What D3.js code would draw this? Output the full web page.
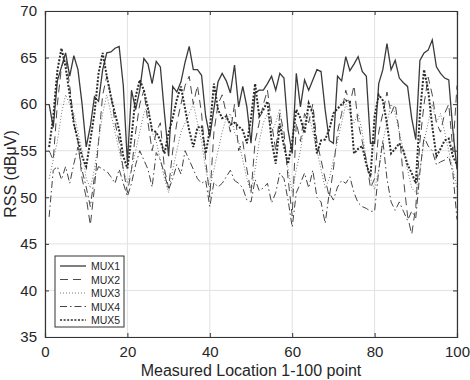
<!DOCTYPE html>
<html>
<head>
<meta charset="utf-8">
<script src="https://cdn.jsdelivr.net/npm/d3@7"></script>
<style>
  body { margin: 0; background: #fff; }
  svg { display: block; font-family: "Liberation Sans", Arial, sans-serif; }
</style>
</head>
<body>
<div id="chart"></div>
<script>
// values, points 1..100
const mux1 = [60, 57.5, 62.5, 64, 65.5, 63, 65.2, 63.7, 60, 55.4,
  57.6, 60.8, 60.3, 63.7, 65.5, 65.6, 66, 66.2, 62, 53.7,
  61.5, 59.4, 61.5, 64.9, 64.3, 62.2, 64.6, 64, 59, 54.4,
  61.9, 61.3, 62.4, 64.5, 66.2, 63.7, 63.7, 63.1, 58.7, 56.5,
  59.5, 62.4, 63.3, 62.5, 61.2, 64.2, 59.7, 61.9, 59.7, 55.8,
  61.2, 61.5, 61.5, 62.2, 63, 61.5, 63.3, 62.8, 57.2, 54.7,
  63.3, 59.7, 62.6, 61.5, 62.6, 63.7, 63.5, 59.4, 56.1, 55.8,
  63, 62.5, 65.1, 63.6, 64.3, 65.1, 63.5, 63, 55.8, 55.8,
  62.2, 63.7, 66.5, 63.7, 64.7, 62.8, 62.3, 61.9, 58.5, 56.2,
  64.7, 65.5, 65.8, 66.9, 64, 63.3, 62.8, 62.6, 57.2, 53];
const mux2 = [55, 54, 60, 64, 65, 62, 58, 56, 52, 50,
  47, 51, 56, 61, 63, 61, 58, 56, 53, 50.5,
  53, 57, 60, 61.5, 58, 55, 57, 58, 53, 51,
  55, 58, 60, 62, 63, 60, 62, 59, 54, 50,
  57, 60, 61, 59, 57, 60, 55, 56, 53, 50.5,
  56, 58, 60, 61.5, 58, 55, 59, 57, 52, 48,
  58, 56, 59, 58, 60, 56, 54, 52, 50, 53,
  57, 59, 61.5, 60, 62, 58, 56, 54, 51, 52,
  57, 59, 61.3, 59, 60, 57, 52, 48, 46, 49,
  56, 60, 62.9, 61, 58, 57, 59, 60, 55, 62];
const mux3 = [52, 54, 56, 59, 61, 60, 59, 57, 55, 52,
  51, 53, 56, 59, 61, 59, 57, 55, 53, 51.5,
  53, 55, 57, 59, 60, 57, 56, 54, 52, 50.5,
  53, 55, 57, 58, 59, 60, 58, 56, 53, 51,
  53, 55, 57, 58.5, 59, 57, 56, 54, 52, 50.5,
  53, 56, 58, 59, 57, 58, 59.5, 56, 53, 50.5,
  53, 55, 58, 59, 57, 55, 53, 51, 52, 54,
  56, 58, 60, 59, 58, 59, 57, 54, 52, 50.8,
  53, 56, 58, 60, 59, 57, 55, 53, 51, 50.5,
  53, 56, 58, 60, 58, 59, 57, 55, 53, 51];
const mux4 = [47.9, 52.9, 53.3, 51.9, 53.3, 51.5, 53.6, 55.4, 52.9, 51.1,
  49, 52.2, 53.3, 53, 52.8, 52.2, 51.5, 53, 51.5, 50.1,
  51.5, 53.5, 55, 54, 53, 51.1, 54.8, 54, 52.5, 50.8,
  52, 53.5, 52.5, 55, 54, 53, 52, 51.5, 51.8, 49,
  51.6, 51.1, 51.5, 52.2, 52.9, 51.8, 51.5, 51, 49.7, 49.5,
  51.9, 50.7, 51, 51.5, 49.4, 50.5, 52.6, 52, 49.7, 46.8,
  50.5, 51.5, 52.6, 51, 52.9, 50, 49.5, 47.2, 50.5, 49.7,
  51.1, 51.8, 51.5, 52.2, 50.5, 49.4, 49, 48.8, 48.5, 48.5,
  52.9, 56.1, 52, 49.5, 48.6, 49.5, 48.5, 47.5, 48.5, 47.8,
  52.7, 56.5, 55.5, 55, 53.5, 53.8, 54, 54.4, 52.6, 47.6];
const mux5 = [55.4, 58.6, 63.6, 66, 64, 61, 57.9, 56.1, 54.4, 53.3,
  56.1, 59, 63.3, 65.5, 63, 60.8, 59, 57.2, 54.4, 53.1,
  56.5, 60.8, 62.6, 61.5, 59.5, 57.2, 57, 56.1, 54.7, 56.9,
  58.5, 60.5, 61.9, 59.5, 57.2, 55.4, 57.5, 57.6, 54.7, 57.2,
  62.2, 59.4, 58.5, 58.7, 57.8, 58, 57.6, 57.2, 55.8, 58.5,
  62.2, 58.7, 59.4, 60.3, 56.1, 53.6, 57.9, 55.5, 53.6, 56,
  59.4, 58.5, 56.9, 60.1, 59, 54.7, 56.1, 56.2, 57.3, 59,
  59.5, 60, 60.4, 60.2, 54.7, 55.2, 55.5, 53.5, 52.2, 58.7,
  61, 60.4, 57.9, 54.7, 55.2, 55.8, 55, 53.5, 52.6, 51.5,
  59, 63.7, 61.5, 57.6, 54.4, 55.2, 56.1, 56.3, 54.4, 53.5];

const seriesNames = ['MUX1', 'MUX2', 'MUX3', 'MUX4', 'MUX5'];
const xTicks = [0, 20, 40, 60, 80, 100];
const yTicks = [35, 40, 45, 50, 55, 60, 65, 70];

const series = [
  { name: seriesNames[0], values: mux1, dash: null, width: 1.3, color: '#3a3a3a' },
  { name: seriesNames[1], values: mux2, dash: '8,5', width: 1, color: '#4a4a4a' },
  { name: seriesNames[2], values: mux3, dash: '1,2', width: 0.9, color: '#666' },
  { name: seriesNames[3], values: mux4, dash: '7,3,1.5,3', width: 1, color: '#444' },
  { name: seriesNames[4], values: mux5, dash: '2,1.6', width: 2, color: '#2a2a2a' }
];

const W = 470, H = 380;
const margin = { top: 11, right: 13, bottom: 43, left: 45 };
const width = W - margin.left - margin.right;
const height = H - margin.top - margin.bottom;

const svg = d3.select('#chart').append('svg')
  .attr('width', W)
  .attr('height', H);

const chart = svg.append('g')
  .attr('transform', `translate(${margin.left}, ${margin.top})`);

const x = d3.scaleLinear().domain([0, 100]).range([0, width]);
const y = d3.scaleLinear().domain([35, 70]).range([height, 0]);

// grid
chart.append('g')
  .selectAll('line.gx')
  .data(xTicks)
  .enter().append('line')
  .attr('x1', d => x(d)).attr('x2', d => x(d))
  .attr('y1', 0).attr('y2', height)
  .attr('stroke', '#e2e2e2').attr('stroke-width', 1);
chart.append('g')
  .selectAll('line.gy')
  .data(yTicks)
  .enter().append('line')
  .attr('x1', 0).attr('x2', width)
  .attr('y1', d => y(d)).attr('y2', d => y(d))
  .attr('stroke', '#e2e2e2').attr('stroke-width', 1);

// lines
const line = d3.line()
  .x((d, i) => x(i + 1))
  .y(d => y(d));

chart.selectAll('.series')
  .data(series)
  .enter()
  .append('path')
  .attr('class', 'series')
  .attr('d', d => line(d.values))
  .attr('fill', 'none')
  .attr('stroke', d => d.color)
  .attr('stroke-width', d => d.width)
  .attr('stroke-dasharray', d => d.dash);

// axes, ticks pointing inward like MATLAB
const xAxis = d3.axisBottom(x).tickValues(xTicks).tickSize(-4).tickPadding(9);
const yAxis = d3.axisLeft(y).tickValues(yTicks).tickSize(-4).tickPadding(8);

chart.append('g')
  .attr('transform', `translate(0, ${height})`)
  .call(xAxis);
chart.append('g').call(yAxis);

chart.append('g')
  .call(d3.axisTop(x).tickValues(xTicks).tickSize(-4).tickFormat(''));
chart.append('g')
  .attr('transform', `translate(${width}, 0)`)
  .call(d3.axisRight(y).tickValues(yTicks).tickSize(-4).tickFormat(''));

chart.selectAll('.domain').attr('stroke', '#333').attr('stroke-width', 1.2);
chart.selectAll('.tick line').attr('stroke', '#333');
chart.selectAll('.tick text')
  .attr('fill', '#262626')
  .style('font-size', '15px');

// axis labels
svg.append('text')
  .attr('x', margin.left + width / 2)
  .attr('y', 376)
  .attr('text-anchor', 'middle')
  .attr('fill', '#262626')
  .style('font-size', '16px')
  .text('Measured Location 1-100 point');

svg.append('text')
  .attr('transform', `translate(16, ${margin.top + height / 2}) rotate(-90)`)
  .attr('text-anchor', 'middle')
  .attr('fill', '#262626')
  .style('font-size', '16px')
  .text('RSS (dBμV)');

// legend
const legend = chart.append('g')
  .attr('transform', `translate(10, ${height - 81})`);
legend.append('rect')
  .attr('width', 69).attr('height', 71)
  .attr('fill', '#fff')
  .attr('stroke', '#333')
  .attr('stroke-width', 1);

const rows = legend.selectAll('.lg')
  .data(series)
  .enter().append('g')
  .attr('transform', (d, i) => `translate(0, ${10 + i * 13.5})`);
rows.append('line')
  .attr('x1', 5).attr('x2', 31)
  .attr('stroke', d => d.color)
  .attr('stroke-width', d => Math.min(d.width, 1.6))
  .attr('stroke-dasharray', d => d.dash);
rows.append('text')
  .attr('x', 36).attr('y', 4)
  .attr('fill', '#262626')
  .style('font-size', '10.5px')
  .text(d => d.name);
</script>
</body>
</html>
